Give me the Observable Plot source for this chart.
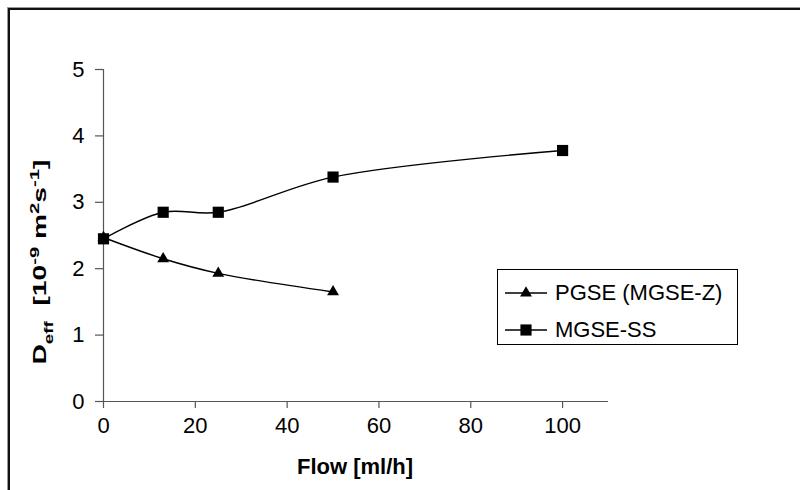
<!DOCTYPE html>
<html><head><meta charset="utf-8">
<script src="https://cdn.jsdelivr.net/npm/d3@7"></script>
<script src="https://cdn.jsdelivr.net/npm/@observablehq/plot@0.6"></script>
<style>
html,body{margin:0;padding:0;background:#fff;width:800px;height:490px;overflow:hidden}
#wrap{position:relative;width:800px;height:490px;font-family:"Liberation Sans",Arial,sans-serif;overflow:hidden}
#frame{position:absolute;left:8px;top:8px;width:900px;height:600px;border-left:2px solid #111;border-top:2px solid #111;box-shadow:-1px -1px 0 #999;}
#chart{position:absolute;left:0;top:0}
#legend{position:absolute;left:497px;top:269px;width:239px;height:74px;border:1px solid #000;background:#fff;font-size:22px;color:#000}
.row{position:absolute;left:0;height:30px;display:flex;align-items:center}
.row svg{margin-left:7px}
.row span{margin-left:8px;white-space:nowrap}
</style></head>
<body><div id="wrap"><div id="frame"></div><div id="chart"></div><div id="legend"></div></div>
<script>
const flow = [0, 13, 25, 50, 100];
const pgseValues = [2.47, 2.15, 1.93, 1.65];
const mgseValues = [2.45, 2.85, 2.85, 3.38, 3.78];
const seriesNames = ["PGSE (MGSE-Z)", "MGSE-SS"];
const xTicks = [0, 20, 40, 60, 80, 100];
const yTicks = [0, 1, 2, 3, 4, 5];
const xTitle = "Flow [ml/h]";

const pg = pgseValues.map((v, i) => ({x: flow[i], y: v, s: seriesNames[0]}));
const ms = mgseValues.map((v, i) => ({x: flow[i], y: v, s: seriesNames[1]}));

const axisColor = "#555";
const plot = Plot.plot({
  width: 800, height: 490,
  marginLeft: 103, marginRight: 192, marginTop: 69, marginBottom: 89,
  x: {domain: [0, 110]},
  y: {domain: [0, 5]},
  style: {fontFamily: "'Liberation Sans', Arial, sans-serif", fontSize: "22px", color: "#000", background: "transparent", overflow: "visible"},
  marks: [
    Plot.ruleY([0], {stroke: axisColor, strokeWidth: 1.2}),
    Plot.ruleX([0], {stroke: axisColor, strokeWidth: 1.2}),
    Plot.axisX({ticks: xTicks, tickFormat: d => String(d), tickSize: 7, tickPadding: 9, label: null, stroke: axisColor, strokeWidth: 1.2}),
    Plot.axisY({ticks: yTicks, tickFormat: d => String(d), tickSize: 8, tickPadding: 11, label: null, stroke: axisColor, strokeWidth: 1.2}),
    Plot.line(pg, {x: "x", y: "y", curve: "catmull-rom", stroke: "#000", strokeWidth: 1.4}),
    Plot.line(ms, {x: "x", y: "y", curve: "catmull-rom", stroke: "#000", strokeWidth: 1.4}),
    Plot.dot(pg, {x: "x", y: "y", symbol: "triangle", r: 4.4, fill: "#000", stroke: "none"}),
    Plot.dot(ms, {x: "x", y: "y", symbol: "square", r: 6.3, fill: "#000", stroke: "none"})
  ]
});
document.getElementById("chart").appendChild(plot);

const svg = d3.select(plot);
svg.selectAll("text").attr("fill", "#000");

// x axis title
svg.append("text")
  .attr("x", 355).attr("y", 474)
  .attr("text-anchor", "middle")
  .attr("font-weight", "bold").attr("font-size", 22).attr("fill", "#000")
  .text(xTitle);

// y axis title with sub/superscripts
const yt = svg.append("text")
  .attr("transform", "translate(46,262) rotate(-90)")
  .attr("text-anchor", "middle")
  .attr("textLength", 205).attr("lengthAdjust", "spacingAndGlyphs")
  .attr("font-weight", "bold").attr("font-size", 18).attr("fill", "#000");
const parts = [
  ["D", 0], ["eff", -1], ["  [10", 0], ["-9", 1], [" m", 0], ["2", 1], ["s", 0], ["-1", 1], ["]", 0]
];
parts.forEach(([t, k]) => {
  const ts = yt.append("tspan").text(t).attr("xml:space", "preserve").style("white-space", "pre");
  if (k === 1) ts.attr("font-size", 13).attr("baseline-shift", "super");
  if (k === -1) ts.attr("font-size", 12).attr("baseline-shift", "sub");
});

// legend
const legend = d3.select("#legend");
const sym = [d3.symbolTriangle, d3.symbolSquare];
const sizes = [4.4 * 4.4 * Math.PI, 6.3 * 6.3 * Math.PI];
seriesNames.forEach((name, i) => {
  const row = legend.append("div").attr("class", "row").style("top", (i === 0 ? 8 : 45) + "px");
  const s = row.append("svg").attr("width", 42).attr("height", 20);
  s.append("line").attr("x1", 0).attr("x2", 42).attr("y1", 10).attr("y2", 10).attr("stroke", "#000").attr("stroke-width", 1.4);
  s.append("path").attr("transform", "translate(21,10)").attr("d", d3.symbol(sym[i], sizes[i])()).attr("fill", "#000");
  row.append("span").text(name);
});
</script></body></html>
